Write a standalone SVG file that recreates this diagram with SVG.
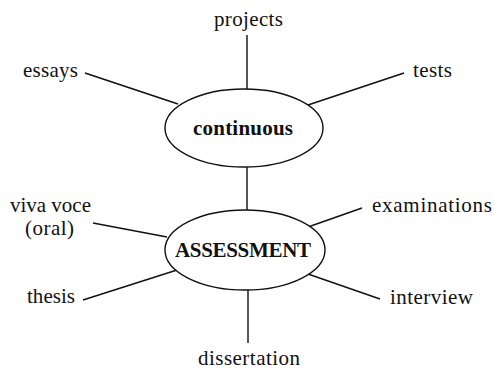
<svg xmlns="http://www.w3.org/2000/svg" width="495" height="371" viewBox="0 0 495 371">
<style>
.lbl{font-family:"Liberation Serif","Times New Roman",serif;font-size:21px;fill:#111}
.hub{font-family:"Liberation Serif","Times New Roman",serif;font-size:21px;font-weight:bold;fill:#111}
.node ellipse{fill:#fff;stroke:#111;stroke-width:1.4}
.edges line{stroke:#111;stroke-width:1.4}
</style>
<rect width="495" height="371" fill="#fff"/>
<g id="connectors" class="edges">
<line x1="247" y1="35" x2="247" y2="89"/>
<line x1="85" y1="73" x2="178" y2="104"/>
<line x1="404" y1="73" x2="308" y2="105"/>
<line x1="247" y1="167" x2="247" y2="210"/>
<line x1="93" y1="223" x2="167" y2="237"/>
<line x1="83" y1="300" x2="177" y2="270"/>
<line x1="362" y1="208" x2="308" y2="227"/>
<line x1="308" y1="274" x2="380" y2="299"/>
<line x1="248" y1="289" x2="248" y2="343"/>
</g>
<g id="continuous" class="node">
<ellipse cx="244" cy="128" rx="79" ry="39"/>
<text class="hub" x="243" y="135" text-anchor="middle" textLength="100">continuous</text>
</g>
<g id="assessment" class="node">
<ellipse cx="245" cy="250" rx="80" ry="40"/>
<text class="hub" x="243" y="257" text-anchor="middle" textLength="136">ASSESSMENT</text>
</g>
<g id="projects"><text class="lbl" x="214" y="26" textLength="69">projects</text></g>
<g id="essays"><text class="lbl" x="23" y="77" textLength="55">essays</text></g>
<g id="tests"><text class="lbl" x="413" y="77" textLength="39">tests</text></g>
<g id="viva-voce"><text class="lbl" x="10" y="212" textLength="81">viva voce</text><text class="lbl" x="25" y="235" textLength="49">(oral)</text></g>
<g id="thesis"><text class="lbl" x="27" y="303" textLength="48">thesis</text></g>
<g id="examinations"><text class="lbl" x="372" y="212" textLength="120">examinations</text></g>
<g id="interview"><text class="lbl" x="390" y="304" textLength="83">interview</text></g>
<g id="dissertation"><text class="lbl" x="198" y="365" textLength="102">dissertation</text></g>
</svg>
